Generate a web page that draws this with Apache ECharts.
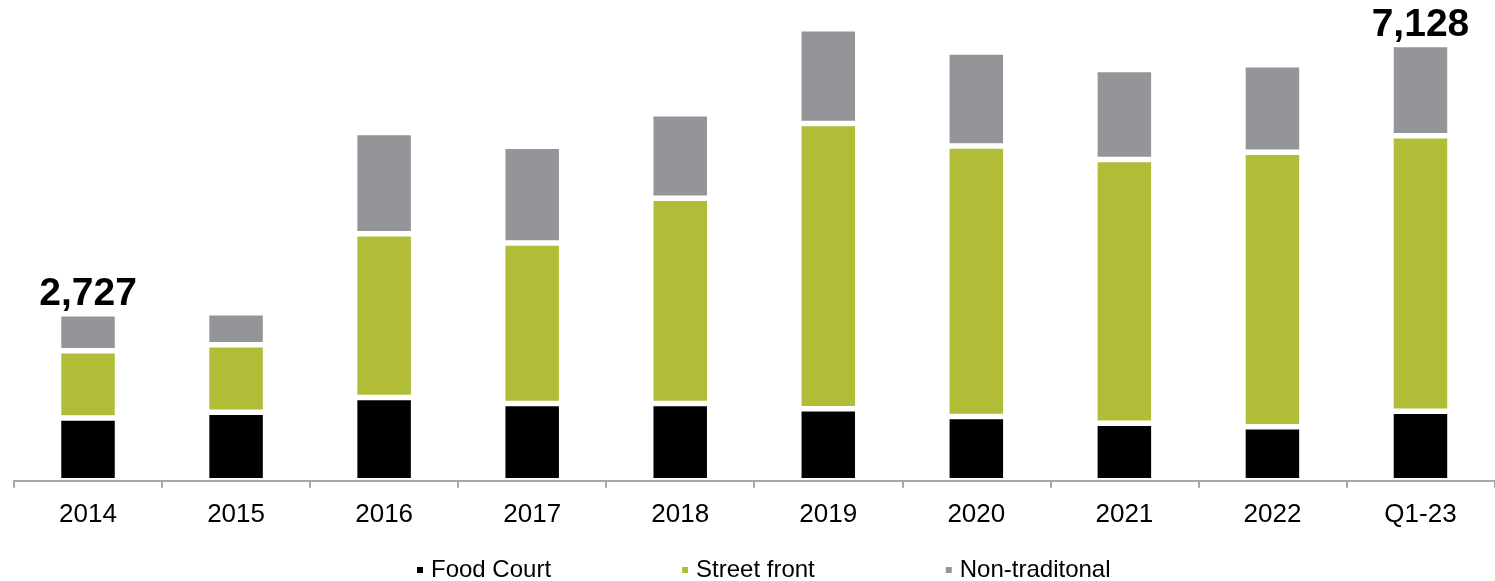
<!DOCTYPE html>
<html>
<head>
<meta charset="utf-8">
<style>
  html, body { margin: 0; padding: 0; background: #ffffff; }
  #chart { width: 1495px; height: 581px; }
</style>
<script src="https://cdn.jsdelivr.net/npm/echarts@6/dist/echarts.min.js"></script>
</head>
<body>
<div id="chart"></div>
<script>
// Store counts by format, per year
const categories = ['2014', '2015', '2016', '2017', '2018', '2019', '2020', '2021', '2022', 'Q1-23'];
const foodCourt = [1025, 1120, 1360, 1260, 1260, 1175, 1050, 940, 880, 1135];
const streetFront = [1100, 1100, 2675, 2625, 3355, 4660, 4420, 4310, 4485, 4500];
const nonTraditional = [602, 525, 1655, 1580, 1380, 1550, 1535, 1470, 1430, 1493];
// Columns whose stacked total is printed above the bar
const totalLabelIndexes = [0, 9];

const FONT = 'Arial, "Liberation Sans", sans-serif';
const totals = categories.map((_, i) => foodCourt[i] + streetFront[i] + nonTraditional[i]);

// White outline separates the stacked segments
const barStyle = (color) => ({ color: color, borderColor: '#ffffff', borderWidth: 2.75 });

const chart = echarts.init(document.getElementById('chart'), null, { renderer: 'canvas' });

chart.setOption({
  animation: false,
  backgroundColor: '#ffffff',
  grid: { left: 14, right: 0.5, top: 21.7, bottom: 100.3, containLabel: false },
  legend: {
    left: 412,
    top: 553,
    icon: 'rect',
    itemWidth: 6,
    itemHeight: 6,
    itemGap: 131,
    itemStyle: { borderWidth: 0 },
    textStyle: { fontFamily: FONT, fontSize: 24, color: '#000000', lineHeight: 24, padding: [0, 0, 0, 3] },
    data: ['Food Court', 'Street front', 'Non-traditonal']
  },
  xAxis: {
    type: 'category',
    data: categories,
    z: 5,
    axisLine: { show: true, lineStyle: { color: '#a6a6a6', width: 2 } },
    axisTick: { show: true, alignWithLabel: false, length: 7, lineStyle: { color: '#a6a6a6', width: 2 } },
    axisLabel: { fontFamily: FONT, fontSize: 26, color: '#000000', margin: 21 },
    splitLine: { show: false }
  },
  yAxis: {
    type: 'value',
    min: 0,
    max: 7500,
    show: false,
    splitLine: { show: false }
  },
  series: [
    {
      name: 'Food Court',
      type: 'bar',
      stack: 'stores',
      barWidth: 59,
      itemStyle: barStyle('#000000'),
      data: foodCourt
    },
    {
      name: 'Street front',
      type: 'bar',
      stack: 'stores',
      barWidth: 59,
      itemStyle: barStyle('#b1bd37'),
      data: streetFront
    },
    {
      name: 'Non-traditonal',
      type: 'bar',
      stack: 'stores',
      barWidth: 59,
      itemStyle: barStyle('#939598'),
      data: nonTraditional.map((v, i) => ({
        value: v,
        label: {
          show: totalLabelIndexes.includes(i),
          position: 'top',
          distance: 0,
          fontFamily: FONT,
          fontSize: 39,
          fontWeight: 'bold',
          color: '#000000',
          formatter: () => totals[i].toLocaleString('en-US')
        }
      }))
    }
  ]
});
</script>
</body>
</html>
